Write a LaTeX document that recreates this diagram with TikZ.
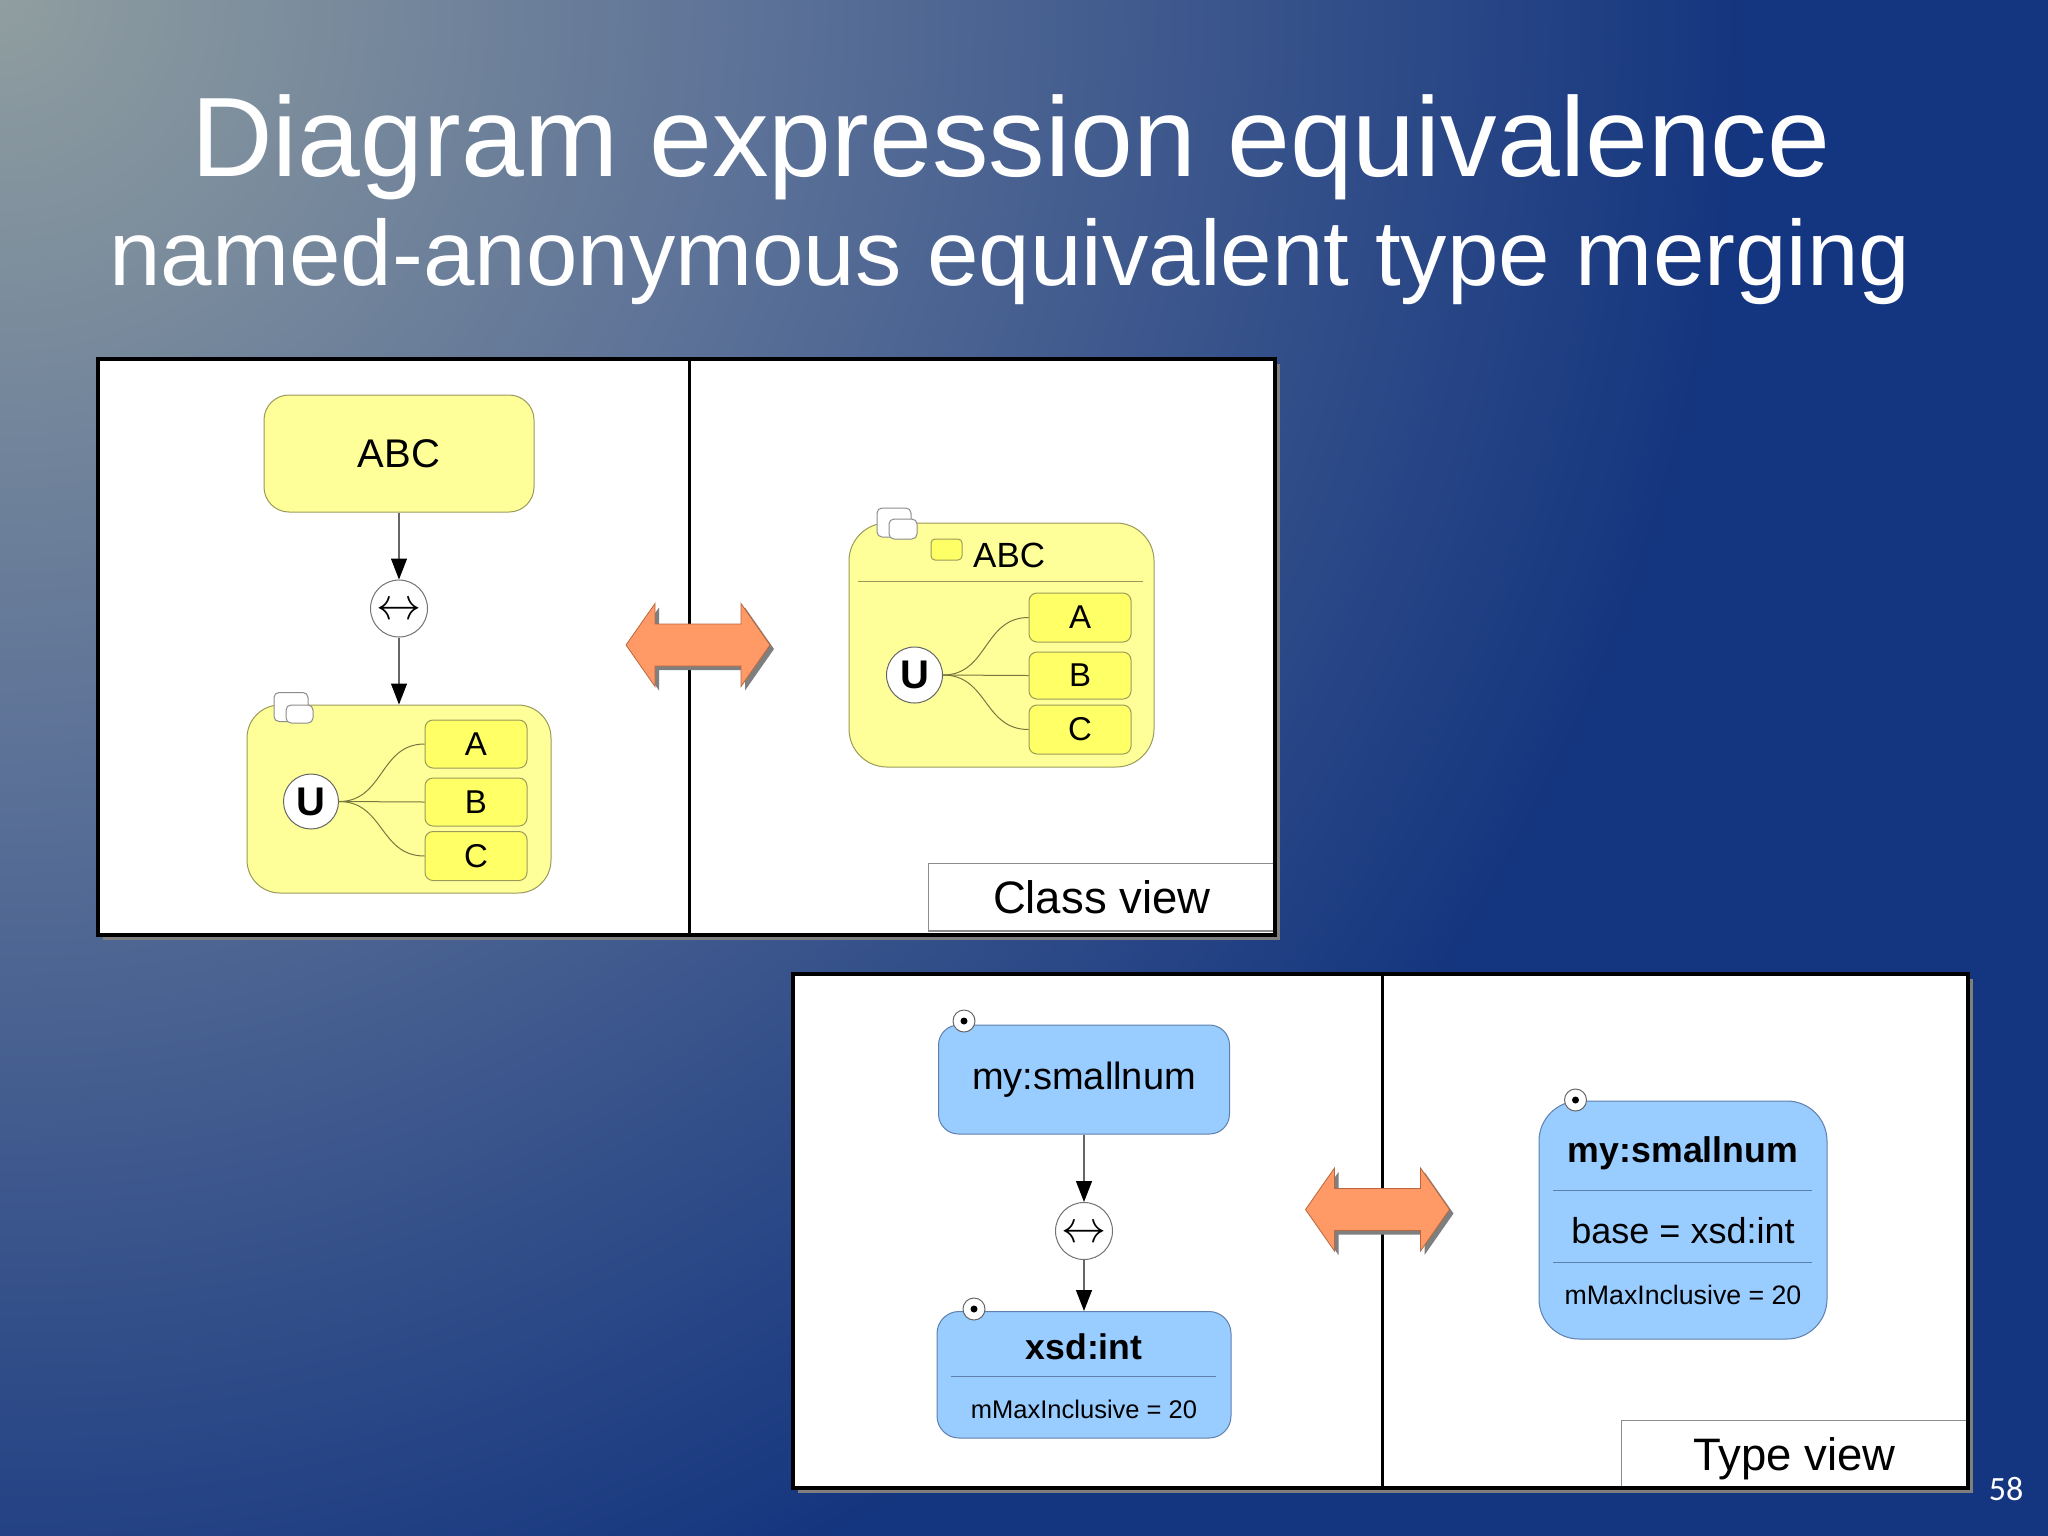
\documentclass[tikz,border=0pt]{standalone}
\usepackage{fontspec}
\setmainfont{Liberation Sans}
\newfontfamily\carlito{Carlito}
\usetikzlibrary{arrows.meta}

\definecolor{bgA}{HTML}{909EA0}
\definecolor{bgB}{HTML}{5B7197}
\definecolor{bgC}{HTML}{14357F}
\definecolor{ylight}{HTML}{FFFF99}
\definecolor{ydark}{HTML}{FFFF66}
\definecolor{yline}{HTML}{9A9A5A}
\definecolor{ycurve}{HTML}{77773F}
\definecolor{bfill}{HTML}{99CCFF}
\definecolor{bline}{HTML}{5E80AD}
\definecolor{orng}{HTML}{FF9966}
\definecolor{orline}{HTML}{B8683F}
\definecolor{shadowc}{HTML}{7F7F7F}

\pgfdeclareradialshading{bgshade}{\pgfpoint{0bp}{0bp}}{color(0bp)=(bgA); color(11bp)=(bgB); color(25bp)=(bgC); color(50bp)=(bgC)}

\newcommand\fsz[1]{\fontsize{#1}{#1}\selectfont}

\newcommand\orarrow[1]{%
\begin{scope}[shift={#1}]
\fill[shadowc] (-68,4) -- (-39,-37.5) -- (-39,-17) -- (47,-17) -- (47,-37.5) -- (76,4) -- (47,45.5) -- (47,25) -- (-39,25) -- (-39,45.5) -- cycle;
\filldraw[fill=orng, draw=orline, line width=0.8pt] (-72,0) -- (-43,-41.5) -- (-43,-21) -- (43,-21) -- (43,-41.5) -- (72,0) -- (43,41.5) -- (43,21) -- (-43,21) -- (-43,41.5) -- cycle;
\end{scope}}

\begin{document}
\begin{tikzpicture}[x=1pt,y=-1pt,
  ybox/.style={draw=yline, fill=ylight, line width=1pt, inner sep=0pt},
  ysmall/.style={draw=yline, fill=ydark, line width=1pt, inner sep=0pt, rounded corners=8pt, minimum width=102pt, font=\fsz{33}},
  tabbox/.style={draw=black!45, fill=white, line width=1pt, inner sep=0pt, rounded corners=5pt},
  ucirc/.style={circle, draw=black!60, fill=white, line width=1pt, inner sep=0pt, minimum size=55pt, font=\fsz{40}\bfseries},
  eqc/.style={circle, draw=black!55, fill=white, line width=1pt, inner sep=0pt, minimum size=57pt, text height=22.5pt, text depth=0pt},
  bbox/.style={draw=bline, fill=bfill, line width=1pt, inner sep=0pt},
  dotc/.style={circle, draw=black!60, fill=white, line width=1pt, inner sep=0pt, minimum size=22pt},
  conn/.style={draw=black!60, line width=1.2pt, -{Triangle[length=21pt,width=16pt,color=black]}},
  ucurve/.style={draw=ycurve, line width=1pt},
  sepY/.style={draw=yline, line width=1pt},
  sepB/.style={draw=bline, line width=1pt},
  lbl/.style={draw=black!45, fill=white, line width=1.5pt, inner sep=0pt, font=\fsz{45.5}, text depth=0pt},
  txt/.style={inner sep=0pt, anchor=base}
]
\useasboundingbox (0,0) rectangle (2048,1535);
\fill[bgC] (-10,-10) rectangle (2058,1545);
\begin{scope}
\clip (-10,-10) rectangle (2058,1545);
\shade[shading=bgshade] (0,0) circle (1750pt);
\end{scope}

% titles
\node[txt, text=white, font=\fsz{113}] (title) at (1011,176.5) {Diagram expression equivalence};
\node[txt, text=white, font=\fsz{92.6}] (subtitle) at (1010,285) {named-anonymous equivalent type merging};

% ================= upper panel =================
\fill[shadowc] (103,364) rectangle (1280,940);
\fill[white] (98,359) rectangle (1275,935);
\draw[line width=3pt] (689,357) -- (689,935);

\node[ybox, minimum width=270pt, minimum height=117pt, rounded corners=25pt, font=\fsz{40}] (abc) at (399,453.5) {ABC};
\node[eqc] (eq1) at (399,608.5) {\scalebox{4.5}{$\leftrightarrow$}};
\node[ybox, minimum width=304pt, minimum height=188pt, rounded corners=33pt] (ubox) at (399,799) {};
\node[tabbox, minimum width=34pt, minimum height=29pt] (tabA) at (291,707) {};
\node[tabbox, minimum width=27pt, minimum height=18pt] (tabB) at (299.5,714) {};
\draw[conn] (abc) -- (eq1);
\draw[conn] (eq1) -- (ubox);

\node[ucirc] (u1) at (311,801.5) {U};
\node[ysmall, minimum height=48pt] (a1) at (476,744) {A};
\node[ysmall, minimum height=48pt] (b1) at (476,802) {B};
\node[ysmall, minimum height=49pt] (c1) at (476,856) {C};
\draw[ucurve] (u1.east) .. controls +(45,0) and +(-45,0) .. (a1.west);
\draw[ucurve] (u1.east) -- (b1.west);
\draw[ucurve] (u1.east) .. controls +(45,0) and +(-45,0) .. (c1.west);

\orarrow{(698,645)}

\node[ybox, minimum width=305pt, minimum height=244pt, rounded corners=38pt] (cls) at (1001.5,645) {};
\node[tabbox, minimum width=34pt, minimum height=29pt] (tabC) at (894,522.5) {};
\node[tabbox, minimum width=28pt, minimum height=20pt] (tabD) at (903,529) {};
\node[ysmall, minimum width=31pt, minimum height=21pt, rounded corners=4pt] (icon) at (946.5,549.5) {};
\node[inner sep=0pt, anchor=base west, font=\fsz{35}] (abc2) at (973,567.7) {ABC};
\draw[sepY] (858,581) -- (1143,581);
\node[ucirc, minimum size=56pt] (u2) at (914.5,675) {U};
\node[ysmall, minimum height=49pt] (a2) at (1080,617.5) {A};
\node[ysmall, minimum height=47pt] (b2) at (1080,675.5) {B};
\node[ysmall, minimum height=49pt] (c2) at (1080,729.5) {C};
\draw[ucurve] (u2.east) .. controls +(45,0) and +(-45,0) .. (a2.west);
\draw[ucurve] (u2.east) -- (b2.west);
\draw[ucurve] (u2.east) .. controls +(45,0) and +(-45,0) .. (c2.west);

\node[lbl, minimum width=346.5pt, minimum height=67.5pt] (cview) at (1101.75,897.25) {Class view};
\draw[line width=4pt] (98,359) rectangle (1275,935);

% ================= lower panel =================
\fill[shadowc] (798,979) rectangle (1973,1493);
\fill[white] (793,974) rectangle (1968,1488);
\draw[line width=3pt] (1382,972) -- (1382,1488);

\node[bbox, minimum width=291pt, minimum height=109pt, rounded corners=20pt, font=\fsz{38}] (sn1) at (1084,1079.5) {my:smallnum};
\node[dotc] (d1) at (964,1021) {};
\fill[black] (d1.center) circle (3.5pt);
\node[eqc] (eq2) at (1084,1231) {\scalebox{4.5}{$\leftrightarrow$}};
\node[bbox, minimum width=294pt, minimum height=126.5pt, rounded corners=22pt] (xsd) at (1084,1374.75) {};
\node[dotc] (d2) at (974,1309) {};
\fill[black] (d2.center) circle (3.5pt);
\node[txt, font=\fsz{35.6}\bfseries] (xsdt) at (1084,1359.5) {xsd:int};
\draw[sepB] (951,1376) -- (1216,1376);
\node[txt, font=\fsz{25.5}] (xsdm) at (1084,1418.6) {mMaxInclusive = 20};
\draw[conn] (sn1) -- (eq2);
\draw[conn] (eq2) -- (xsd);

\orarrow{(1377.5,1209.5)}

\node[bbox, minimum width=288pt, minimum height=238pt, rounded corners=40pt] (sn2) at (1683,1220) {};
\node[dotc] (d3) at (1575.5,1100) {};
\fill[black] (d3.center) circle (3.5pt);
\node[txt, font=\fsz{35.7}\bfseries] (sn2t) at (1683,1162.7) {my:smallnum};
\draw[sepB] (1553,1190) -- (1812,1190);
\node[txt, font=\fsz{36}] (sn2b) at (1683,1243) {base = xsd:int};
\draw[sepB] (1553,1262.4) -- (1812,1262.4);
\node[txt, font=\fsz{26.7}] (sn2m) at (1683,1304.7) {mMaxInclusive = 20};

\node[lbl, minimum width=346pt, minimum height=66.7pt] (tview) at (1794.5,1453.65) {Type view};
\draw[line width=4pt] (793,974) rectangle (1968,1488);

\node[font=\carlito\fsz{34}, text=white, inner sep=0pt] (pg) at (2006,1489) {58};
\end{tikzpicture}
\end{document}
